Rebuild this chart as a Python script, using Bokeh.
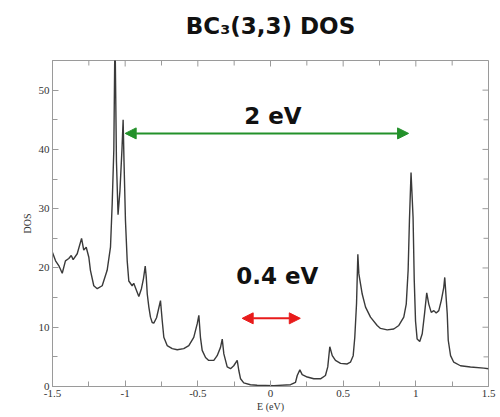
from bokeh.plotting import figure
from bokeh.models import (Arrow, NormalHead, Label, FixedTicker, Range1d)
from bokeh.embed import file_html
from bokeh.resources import INLINE

# ---- data ----
energy = [-1.500, -1.479, -1.457, -1.433, -1.411, -1.388, -1.371, -1.358, -1.330, -1.300,
          -1.285, -1.268, -1.250, -1.239, -1.216, -1.192, -1.158, -1.124, -1.101, -1.089,
          -1.078, -1.070, -1.060, -1.049, -1.036, -1.022, -1.014, -1.008, -0.998, -0.986,
          -0.975, -0.952, -0.941, -0.922, -0.906, -0.888, -0.874, -0.862, -0.855, -0.848,
          -0.837, -0.826, -0.814, -0.803, -0.784, -0.769, -0.757, -0.745, -0.734, -0.711,
          -0.676, -0.642, -0.597, -0.562, -0.528, -0.504, -0.493, -0.482, -0.470, -0.447,
          -0.425, -0.390, -0.367, -0.344, -0.332, -0.321, -0.298, -0.275, -0.253, -0.229,
          -0.218, -0.206, -0.184, -0.138, -0.092, 0.023, 0.138, 0.172, 0.184, 0.202,
          0.218, 0.253, 0.298, 0.344, 0.378, 0.394, 0.408, 0.425, 0.447, 0.482,
          0.528, 0.550, 0.569, 0.580, 0.592, 0.601, 0.608, 0.631, 0.654, 0.688,
          0.734, 0.757, 0.803, 0.848, 0.883, 0.917, 0.934, 0.947, 0.956, 0.967,
          0.981, 0.989, 0.998, 1.009, 1.027, 1.044, 1.060, 1.075, 1.089, 1.106,
          1.124, 1.140, 1.158, 1.175, 1.192, 1.199, 1.216, 1.223, 1.239, 1.261,
          1.307, 1.376, 1.468, 1.500]
dos = [22.6, 21.2, 20.4, 19.1, 21.2, 21.6, 22.1, 21.4, 22.4, 25.0,
       23.0, 23.5, 21.8, 19.6, 17.0, 16.5, 17.0, 19.6, 23.5, 31.0,
       40.0, 60.0, 38.0, 29.0, 33.0, 40.0, 45.0, 38.0, 28.0, 21.2,
       17.8, 17.0, 17.4, 16.2, 15.2, 16.5, 18.2, 20.3, 18.5, 15.6,
       13.4, 11.7, 10.8, 10.7, 11.6, 13.2, 14.5, 11.1, 8.3, 6.9,
       6.4, 6.2, 6.4, 6.9, 8.3, 10.6, 12.0, 8.3, 6.1, 4.9,
       4.4, 4.4, 5.2, 6.6, 8.0, 5.5, 3.3, 3.0, 3.5, 4.4,
       2.7, 1.3, 0.6, 0.3, 0.2, 0.15, 0.3, 0.7, 1.85, 2.8,
       2.0, 1.6, 1.3, 1.3, 1.85, 3.3, 6.7, 5.2, 4.4, 3.9,
       3.8, 4.1, 5.2, 8.3, 14.0, 22.3, 19.0, 15.6, 13.4, 11.7,
       10.3, 9.8, 9.55, 9.7, 10.3, 11.7, 13.9, 19.6, 28.0, 36.1,
       28.5, 18.0, 11.0, 8.0, 7.6, 8.9, 12.3, 15.8, 13.9, 12.5,
       12.8, 12.4, 12.8, 14.5, 16.7, 18.4, 12.3, 7.8, 5.2, 4.1,
       3.5, 3.3, 3.1, 3.0]

x_ticks = [-1.5, -1.0, -0.5, 0.0, 0.5, 1.0, 1.5]
x_tick_labels = ["-1.5", "-1", "-0.5", "0", "0.5", "1", "1.5"]
x_minor = [-1.25, -0.75, -0.25, 0.25, 0.75, 1.25]
y_ticks = [0, 10, 20, 30, 40, 50]
y_minor = [5, 15, 25, 35, 45, 55]

gap_labels = ["2 eV", "0.4 eV"]
gap_from = [-1.0, -0.195]
gap_to = [0.95, 0.205]
gap_y = [42.7, 11.5]
gap_label_y = [45.6, 18.7]
gap_colors = ["#23912a", "#e81b1b"]

title_text = "BC\u2083(3,3) DOS"

X0, X1, Y0, Y1 = -1.5, 1.5, 0, 55
FRAME_W, FRAME_H = 436, 326

# ---- figure ----
p = figure(width=500, height=417, output_backend="svg", toolbar_location=None,
           x_range=Range1d(X0, X1), y_range=Range1d(Y0, Y1),
           min_border_left=52, min_border_right=12, min_border_top=60,
           min_border_bottom=31, background_fill_color="white",
           border_fill_color="white")
p.grid.visible = False
p.outline_line_color = "#9a9a9a"
p.outline_line_width = 1

p.title.text = title_text
p.title.align = "center"
p.title.text_font = "DejaVu Sans"
p.title.text_font_style = "bold"
p.title.text_font_size = "23px"
p.title.text_color = "#111111"
p.title.offset = -6
p.title.standoff = 0
p.title.padding = dict(left=0, right=0, top=0, bottom=22)

p.line(energy, dos, line_color="#3a3a3a", line_width=1.4)

axis_color = "#9a9a9a"
label_font = "Liberation Serif"

def style(ax):
    ax.axis_line_color = axis_color
    ax.major_tick_line_color = axis_color
    ax.minor_tick_line_color = axis_color
    ax.major_tick_in = 6
    ax.major_tick_out = 0
    ax.minor_tick_in = 5
    ax.minor_tick_out = 0
    ax.major_label_text_font = label_font
    ax.major_label_text_font_size = "11px"
    ax.major_label_text_color = "#333333"
    ax.axis_label_text_font = label_font
    ax.axis_label_text_font_style = "normal"
    ax.axis_label_text_font_size = "10px"
    ax.axis_label_text_color = "#333333"

xt = FixedTicker(ticks=x_ticks, minor_ticks=x_minor)
yt = FixedTicker(ticks=y_ticks, minor_ticks=y_minor)

xa = p.xaxis[0]
xa.ticker = xt
xa.major_label_overrides = {t: l for t, l in zip(x_ticks, x_tick_labels)}
xa.axis_label = "E (eV)"
style(xa)
xa.major_label_standoff = 3
xa.axis_label_standoff = 1

ya = p.yaxis[0]
ya.ticker = yt
ya.axis_label = "DOS"
style(ya)
ya.major_label_standoff = 3
ya.axis_label_standoff = 3

# inward ticks on the top and right frame edges (no labels)
dy_major = 6 * (Y1 - Y0) / FRAME_H
dy_minor = 5 * (Y1 - Y0) / FRAME_H
dx_major = 6 * (X1 - X0) / FRAME_W
dx_minor = 5 * (X1 - X0) / FRAME_W
tx = x_ticks + x_minor
p.segment(x0=tx, y0=[Y1] * len(tx), x1=tx,
          y1=[Y1 - dy_major] * len(x_ticks) + [Y1 - dy_minor] * len(x_minor),
          line_color=axis_color, line_width=1)
ty = y_ticks + y_minor
p.segment(x0=[X1] * len(ty), y0=ty,
          x1=[X1 - dx_major] * len(y_ticks) + [X1 - dx_minor] * len(y_minor), y1=ty,
          line_color=axis_color, line_width=1)

# ---- gap arrows and labels ----
for lab, x0, x1, yy, ly, col in zip(gap_labels, gap_from, gap_to, gap_y, gap_label_y, gap_colors):
    p.add_layout(Arrow(x_start=x0, y_start=yy, x_end=x1, y_end=yy,
                       line_color=col, line_width=2,
                       start=NormalHead(size=11, fill_color=col, line_color=col),
                       end=NormalHead(size=11, fill_color=col, line_color=col)))
    p.add_layout(Label(x=(x0 + x1) / 2, y=ly, x_offset=6, text=lab,
                       text_align="center", text_baseline="middle",
                       text_font="DejaVu Sans", text_font_style="bold",
                       text_font_size="23px", text_color="#111111"))

open("out.html", "w").write(file_html(p, INLINE))
